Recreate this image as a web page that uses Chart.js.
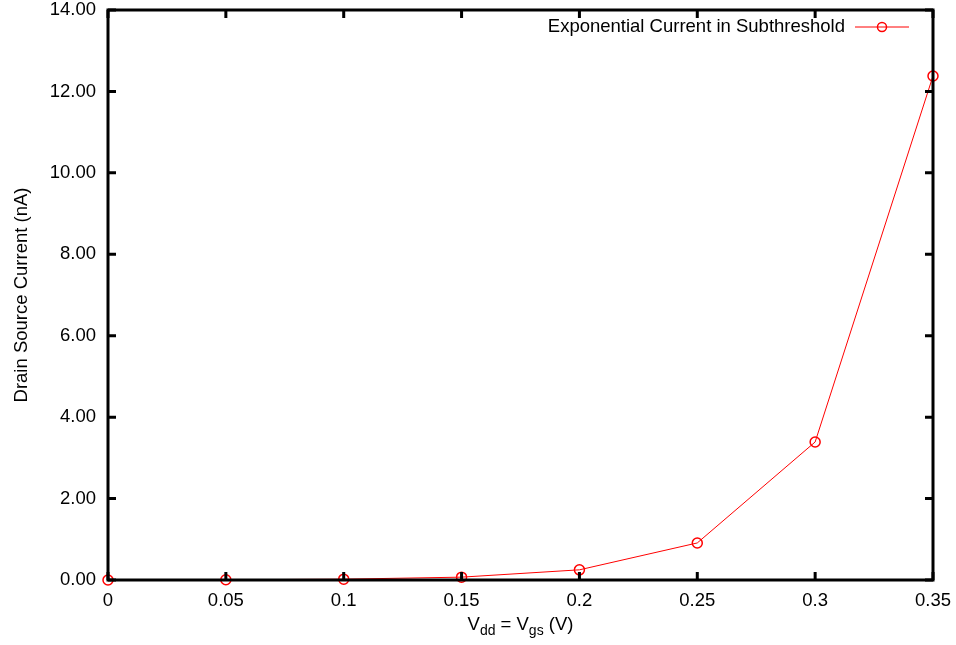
<!DOCTYPE html>
<html>
<head>
<meta charset="utf-8">
<script src="https://cdn.jsdelivr.net/npm/chart.js@4"></script>
<style>
  html, body { margin: 0; padding: 0; background: #fff; }
  #wrap { width: 956px; height: 645px; }
</style>
</head>
<body>
<div id="wrap"><canvas id="grafico" width="956" height="645"></canvas></div>
<script>
// dados
const tensoes = [0, 0.05, 0.1, 0.15, 0.2, 0.25, 0.3, 0.35];
const correntes = [0, 0.005, 0.02, 0.07, 0.25, 0.91, 3.39, 12.38];
const serieNome = 'Exponential Current in Subthreshold';
const tituloY = 'Drain Source Current (nA)';

const fonte = '"Liberation Sans", Arial, sans-serif';
const tam = 18.5;

// moldura grossa + ticks para dentro (estilo gnuplot), legenda e título do eixo x
const molduraPlugin = {
    id: 'moldura',
    afterDraw(chart) {
        const { ctx, chartArea: a, scales } = chart;
        ctx.save();
        ctx.strokeStyle = '#000';
        ctx.lineWidth = 3;
        ctx.strokeRect(a.left, a.top, a.right - a.left, a.bottom - a.top);
        const L = 8;
        scales.x.ticks.forEach(t => {
            const px = scales.x.getPixelForValue(t.value);
            ctx.beginPath();
            ctx.moveTo(px, a.bottom); ctx.lineTo(px, a.bottom - L);
            ctx.moveTo(px, a.top); ctx.lineTo(px, a.top + L);
            ctx.stroke();
        });
        scales.y.ticks.forEach(t => {
            const py = scales.y.getPixelForValue(t.value);
            ctx.beginPath();
            ctx.moveTo(a.left, py); ctx.lineTo(a.left + L, py);
            ctx.moveTo(a.right, py); ctx.lineTo(a.right - L, py);
            ctx.stroke();
        });

        // legenda
        const ly = a.top + 17;
        ctx.fillStyle = '#000';
        ctx.font = tam + 'px ' + fonte;
        ctx.textAlign = 'right';
        ctx.textBaseline = 'middle';
        ctx.fillText(serieNome, 845, ly);
        ctx.strokeStyle = 'red';
        ctx.lineWidth = 1;
        ctx.beginPath();
        ctx.moveTo(855, ly); ctx.lineTo(909, ly);
        ctx.stroke();
        ctx.lineWidth = 1.5;
        ctx.beginPath();
        ctx.arc(882, ly, 4.5, 0, Math.PI * 2);
        ctx.stroke();

        // título do eixo x com subscritos
        const partes = [['V', 0], ['dd', 1], [' = V', 0], ['gs', 1], [' (V)', 0]];
        const big = tam + 'px ' + fonte, small = '14px ' + fonte;
        let w = 0;
        partes.forEach(p => { ctx.font = p[1] ? small : big; w += ctx.measureText(p[0]).width; });
        let x = (a.left + a.right) / 2 - w / 2;
        const base = 630;
        ctx.textAlign = 'left';
        ctx.textBaseline = 'alphabetic';
        ctx.fillStyle = '#000';
        partes.forEach(p => {
            ctx.font = p[1] ? small : big;
            ctx.fillText(p[0], x, base + (p[1] ? 5 : 0));
            x += ctx.measureText(p[0]).width;
        });
        ctx.restore();
    }
};

const ctxGrafico = document.getElementById('grafico').getContext('2d');
new Chart(ctxGrafico, {
    type: 'line',
    data: {
        datasets: [{
            label: serieNome,
            data: tensoes.map((v, i) => ({ x: v, y: correntes[i] })),
            borderColor: 'red',
            borderWidth: 1,
            pointStyle: 'circle',
            pointRadius: 5,
            pointBorderWidth: 1.5,
            pointBorderColor: 'red',
            pointBackgroundColor: 'rgba(0,0,0,0)',
            tension: 0,
            clip: false
        }]
    },
    options: {
        responsive: false,
        animation: false,
        layout: { padding: { left: 0, right: 23, top: 10, bottom: 0 } },
        scales: {
            x: {
                type: 'linear',
                min: 0,
                max: 0.35,
                ticks: {
                    stepSize: 0.05,
                    color: '#000',
                    padding: 10,
                    font: { family: fonte, size: tam },
                    callback: v => String(Number(v.toFixed(2)))
                },
                grid: { display: false, drawTicks: false },
                border: { display: false },
                afterFit(s) { s.height = 65; s.paddingLeft = 0; s.paddingRight = 0; }
            },
            y: {
                min: 0,
                max: 14,
                ticks: {
                    stepSize: 2,
                    color: '#000',
                    padding: 12,
                    font: { family: fonte, size: tam },
                    callback: v => v.toFixed(2)
                },
                title: {
                    display: true,
                    text: tituloY,
                    color: '#000',
                    font: { family: fonte, size: tam },
                    padding: { top: 11, bottom: 6 }
                },
                grid: { display: false, drawTicks: false },
                border: { display: false },
                afterFit(s) { s.width = 108; s.paddingTop = 0; s.paddingBottom = 0; }
            }
        },
        plugins: {
            legend: { display: false },
            tooltip: { enabled: false }
        }
    },
    plugins: [molduraPlugin]
});
</script>
</body>
</html>
